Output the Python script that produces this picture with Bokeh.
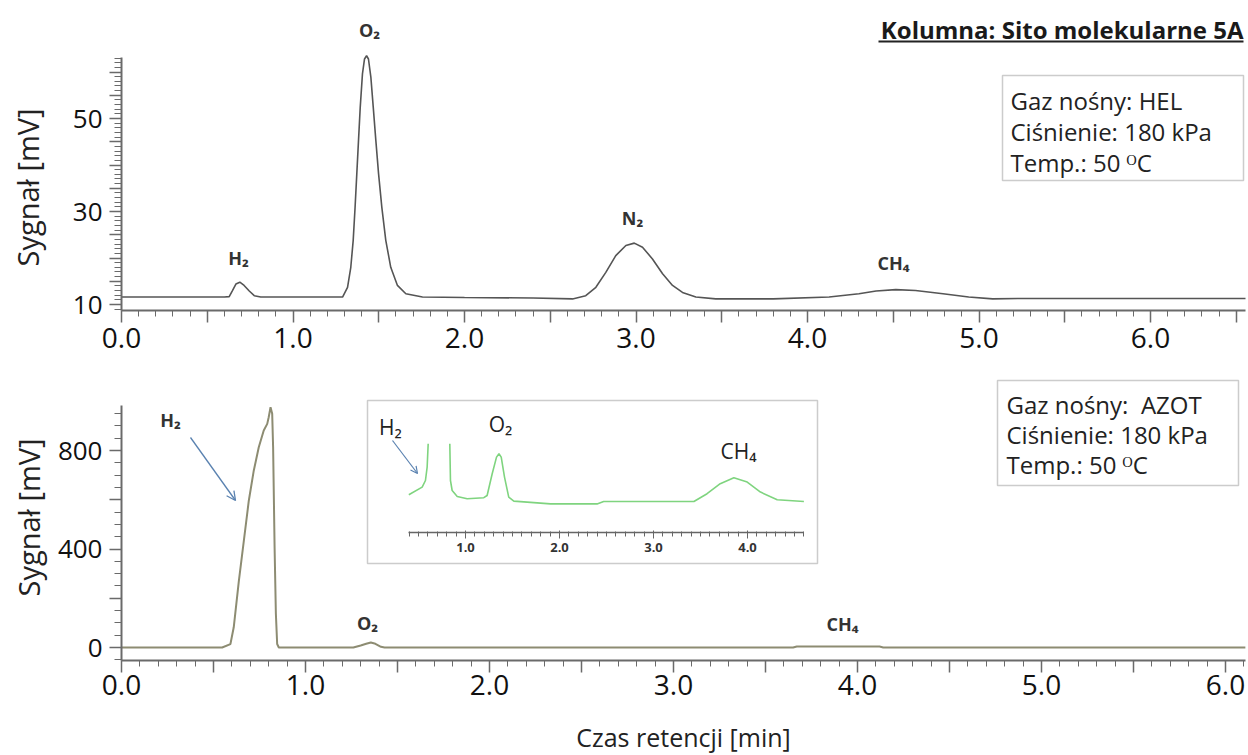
from bokeh.plotting import figure
from bokeh.models import (Range1d, LinearAxis, FixedTicker, CustomJSTickFormatter,
                          Label, BoxAnnotation, Arrow, OpenHead, Title)
from bokeh.layouts import column
from bokeh.embed import file_html
from bokeh.resources import INLINE

# ---------------- data ----------------
# Top chromatogram: carrier gas helium
top_time = [0.0, 0.60, 0.628, 0.647, 0.667, 0.69, 0.715, 0.745, 0.774, 0.812, 1.0,
            1.289, 1.318, 1.337, 1.351, 1.362, 1.372, 1.382, 1.392, 1.405, 1.417, 1.429,
            1.44, 1.454, 1.468, 1.483, 1.499, 1.518, 1.541, 1.570, 1.609, 1.658, 1.755,
            2.0, 2.4, 2.63, 2.707, 2.766, 2.824, 2.882, 2.941, 2.99, 3.038, 3.096, 3.155,
            3.213, 3.271, 3.349, 3.465, 3.8, 4.126, 4.30, 4.40, 4.515, 4.63, 4.79, 4.94,
            5.08, 5.25, 6.0, 6.57]
top_signal = [11.6, 11.6, 11.7, 13.0, 14.4, 14.8, 14.1, 12.9, 11.9, 11.6, 11.6,
              11.6, 13.7, 18.0, 23.8, 30.9, 38.1, 45.3, 52.4, 59.6, 62.8, 63.5,
              62.8, 58.9, 52.4, 45.3, 38.1, 30.9, 23.8, 18.0, 14.1, 12.3, 11.6,
              11.5, 11.4, 11.2, 11.9, 13.7, 16.9, 20.5, 22.7, 23.2, 22.3, 19.8, 16.6,
              14.1, 12.6, 11.6, 11.2, 11.2, 11.6, 12.3, 12.9, 13.2, 13.0, 12.3, 11.6,
              11.2, 11.3, 11.3, 11.3]

# Bottom chromatogram: carrier gas nitrogen
bot_time = [0.0, 0.5, 0.547, 0.592, 0.61, 0.638, 0.665, 0.692, 0.719, 0.746, 0.773,
            0.792, 0.80, 0.81, 0.819, 0.824, 0.832, 0.839, 0.846, 0.855, 1.0,
            1.26, 1.30, 1.33, 1.355, 1.38, 1.41, 1.43, 2.0, 3.0, 3.65, 3.67, 4.12,
            4.14, 5.0, 6.11]
bot_signal = [0, 0, 0, 14, 82, 272, 434, 597, 719, 813, 881,
              908, 935, 976, 949, 813, 407, 137, 14, 0, 0,
              0, 8, 15, 20, 15, 3, 0, 0, 0, 0, 4, 4,
              0, 0, 0]

# Inset (zoomed bottom chromatogram)
inset_h2_time = [0.397, 0.539, 0.574, 0.592, 0.603]
inset_h2_signal = [4.4, 8.2, 11.5, 18.2, 29.9]
inset_time = [0.833, 0.84, 0.858, 0.912, 1.018, 1.195, 1.23, 1.284, 1.33, 1.356, 1.38,
              1.415, 1.46, 1.514, 1.904, 2.4, 2.47, 2.9, 3.43, 3.57, 3.71, 3.855,
              3.997, 4.138, 4.316, 4.6]
inset_signal = [29.9, 11.5, 6.5, 3.5, 2.4, 2.9, 4.0, 14.9, 23.2, 24.9, 23.2,
                13.2, 3.2, 1.2, -0.2, -0.2, 1.0, 1.0, 1.0, 4.9, 9.9, 12.9,
                10.7, 5.7, 1.9, 1.0]

top_y_labels = [10, 30, 50]
bot_y_labels = [0, 400, 800]
inset_x_labels = [1, 2, 3, 4]

y_title = "Sygnał [mV]"
x_title = "Czas retencji [min]"
column_title = "Kolumna: Sito molekularne 5A"
top_info = ["Gaz nośny: HEL", "Ciśnienie: 180 kPa", "Temp.: 50 ᴼC"]
bot_info = ["Gaz nośny:\u00a0 AZOT", "Ciśnienie: 180 kPa", "Temp.: 50 ᴼC"]

# ---------------- layout helpers (reference pixel -> data) ----------------
FONT = "Open Sans"
LEFT = 121          # frame left edge (px) of both panels
FRAME_W = 1124
def top_x(px): return (px - LEFT) / 171.5
def top_y(py): return 10 + (304 - py) / 4.65
def bot_x(px): return (px - LEFT) / 184.0
def bot_y(py): return (647 - py) / 0.24625
def ins_x(px): return (px - 371) / 94.0
def ins_y(py): return (503 - py) * 0.5

AX = "#6a6a6a"

def style_axes(p, ytick_js, xstandoff):
    p.xgrid.visible = False
    p.ygrid.visible = False
    p.outline_line_color = None
    for ax in (p.xaxis[0], p.yaxis[0]):
        ax.axis_line_color = AX
        ax.axis_line_width = 2
        ax.major_tick_line_color = AX
        ax.minor_tick_line_color = AX
        ax.major_tick_line_width = 1.5
        ax.minor_tick_line_width = 1
        ax.major_tick_in = 0
        ax.minor_tick_in = 0
        ax.major_label_text_font = FONT
        ax.major_label_text_color = "#111111"
        ax.axis_label_text_font = FONT
        ax.axis_label_text_font_style = "normal"
        ax.axis_label_text_color = "#222222"
    xa = p.xaxis[0]
    xa.major_label_text_font_size = "28px"
    xa.major_tick_out = 12
    xa.minor_tick_out = 6
    xa.major_label_standoff = xstandoff
    xa.formatter = CustomJSTickFormatter(code="return (Math.abs(tick - Math.round(tick)) < 1e-6) ? tick.toFixed(1) : '';")
    ya = p.yaxis[0]
    ya.major_label_text_font_size = "26px"
    ya.major_tick_out = 12
    ya.minor_tick_out = 7
    ya.major_label_standoff = 7
    ya.formatter = CustomJSTickFormatter(code=ytick_js)

def y_title_for(p, offset, gap_font=None):
    if gap_font:
        # blank title used only as a gap between tick labels and the axis title
        p.add_layout(Title(text=" ", text_font=FONT, text_font_size=gap_font,
                           text_color="white"), "left")
    p.add_layout(Title(text=y_title, align="left", vertical_align="top", offset=offset,
                       text_font=FONT, text_font_size="29px", text_font_style="normal",
                       text_color="#222222"), "left")

def lab(p, x, y, text, size, bold=False, color="#333333", align="center"):
    p.add_layout(Label(x=x, y=y, text=text, text_align=align, text_baseline="middle",
                       text_font=FONT, text_font_size=size,
                       text_font_style="bold" if bold else "normal", text_color=color))

# ---------------- top panel ----------------
p1 = figure(frame_width=FRAME_W, frame_height=310,
            x_range=Range1d(0, top_x(1245)), y_range=Range1d(top_y(310), top_y(0)),
            output_backend="svg", toolbar_location=None,
            min_border_left=LEFT, min_border_right=3, min_border_top=0, min_border_bottom=47,
            background_fill_color="white", border_fill_color="white")
style_axes(p1, "return ([%s].indexOf(tick) >= 0) ? tick.toString() : '';" % ",".join(str(v) for v in top_y_labels), 5)
p1.xaxis[0].ticker = FixedTicker(ticks=[i * 0.5 for i in range(14)],
                                 minor_ticks=[round(i * 0.1, 1) for i in range(66)])
p1.yaxis[0].ticker = FixedTicker(ticks=[10, 15, 20, 25, 30, 35, 40, 45, 50, 55, 60],
                                 minor_ticks=list(range(9, 64)))
p1.yaxis[0].bounds = (top_y(310), top_y(57))
y_title_for(p1, 44, "3px")
p1.line(top_time, top_signal, line_color="#555555", line_width=1.6)

lab(p1, top_x(238), top_y(257), "H₂", "18px", True)
lab(p1, top_x(369), top_y(29), "O₂", "18px", True)
lab(p1, top_x(632), top_y(217), "N₂", "18px", True)
lab(p1, top_x(893), top_y(262), "CH₄", "18px", True)
lab(p1, top_x(1243), top_y(29), column_title, "24px", True, "#1a1a1a", "right")
p1.add_layout(BoxAnnotation(left=top_x(878), right=top_x(1243), top=top_y(40), bottom=top_y(42),
                            fill_color="#222222", fill_alpha=1, line_color=None))
p1.add_layout(BoxAnnotation(left=top_x(1002), right=top_x(1243), top=top_y(75), bottom=top_y(180),
                            fill_alpha=0, line_color="#555555", line_width=1.5))
for i, t in enumerate(top_info):
    lab(p1, top_x(1010), top_y(100 + 31 * i), t, "24px", False, "#222222", "left")

# ---------------- bottom panel ----------------
p2 = figure(frame_width=FRAME_W, frame_height=303,
            x_range=Range1d(0, bot_x(1245)), y_range=Range1d(bot_y(660), bot_y(357)),
            output_backend="svg", toolbar_location=None,
            min_border_left=LEFT, min_border_right=3, min_border_top=0, min_border_bottom=94,
            background_fill_color="white", border_fill_color="white")
style_axes(p2, "return ([%s].indexOf(tick) >= 0) ? tick.toString() : '';" % ",".join(str(v) for v in bot_y_labels), 2)
p2.xaxis[0].ticker = FixedTicker(ticks=[i * 0.5 for i in range(13)],
                                 minor_ticks=[round(i * 0.1, 1) for i in range(62)])
p2.yaxis[0].ticker = FixedTicker(ticks=[0, 200, 400, 600, 800],
                                 minor_ticks=list(range(-50, 1000, 50)))
p2.yaxis[0].bounds = (bot_y(660), bot_y(405))
p2.xaxis[0].axis_label = x_title
p2.xaxis[0].axis_label_text_font_size = "25px"
p2.xaxis[0].axis_label_standoff = 22
y_title_for(p2, 64)
p2.line(bot_time, bot_signal, line_color="#8d8c72", line_width=2)

lab(p2, bot_x(170), bot_y(419), "H₂", "18px", True)
lab(p2, bot_x(367), bot_y(622), "O₂", "18px", True)
lab(p2, bot_x(842), bot_y(623), "CH₄", "18px", True)
ARROW = "#5a82b0"
p2.add_layout(Arrow(end=OpenHead(size=9, line_color=ARROW, line_width=1.3),
                    x_start=bot_x(190), y_start=bot_y(437), x_end=bot_x(235), y_end=bot_y(500),
                    line_color=ARROW, line_width=1.3))
p2.add_layout(BoxAnnotation(left=bot_x(997), right=bot_x(1238), top=bot_y(380), bottom=bot_y(485),
                            fill_alpha=0, line_color="#555555", line_width=1.5))
for i, t in enumerate(bot_info):
    lab(p2, bot_x(1006), bot_y(404 + 30 * i), t, "24px", False, "#222222", "left")

# inset
p2.extra_x_ranges = {"inset": Range1d(ins_x(LEFT), ins_x(1245))}
p2.extra_y_ranges = {"inset": Range1d(ins_y(660), ins_y(357))}
p2.add_layout(BoxAnnotation(left=bot_x(367), right=bot_x(817), top=bot_y(400), bottom=bot_y(563),
                            fill_alpha=0, line_color="#555555", line_width=1.5))
GREEN = "#7fd47f"
p2.line(inset_h2_time, inset_h2_signal, line_color=GREEN, line_width=1.6,
        x_range_name="inset", y_range_name="inset")
p2.line(inset_time, inset_signal, line_color=GREEN, line_width=1.6,
        x_range_name="inset", y_range_name="inset")
iax = LinearAxis(x_range_name="inset", fixed_location=bot_y(532), bounds=(0.39, 4.6))
iax.ticker = FixedTicker(ticks=inset_x_labels, minor_ticks=[round(0.4 + i * 0.1, 1) for i in range(43)])
iax.formatter = CustomJSTickFormatter(code="return tick.toFixed(1);")
iax.axis_line_color = "#666666"
iax.axis_line_width = 1.5
iax.major_tick_line_color = "#666666"
iax.minor_tick_line_color = "#666666"
iax.major_tick_in = 2
iax.major_tick_out = 6
iax.minor_tick_in = 1
iax.minor_tick_out = 4
iax.major_label_standoff = 4
iax.major_label_text_font = FONT
iax.major_label_text_font_size = "13px"
iax.major_label_text_font_style = "bold"
iax.major_label_text_color = "#333333"
p2.add_layout(iax, "below")
lab(p2, bot_x(390), bot_y(426), "H₂", "21px", False, "#222222")
lab(p2, bot_x(500), bot_y(423), "O₂", "21px", False, "#222222")
lab(p2, bot_x(738), bot_y(450), "CH₄", "21px", False, "#222222")
p2.add_layout(Arrow(end=OpenHead(size=7, line_color=ARROW, line_width=1.2),
                    x_start=bot_x(392), y_start=bot_y(440), x_end=bot_x(417), y_end=bot_y(473),
                    line_color=ARROW, line_width=1.2))

layout = column(p1, p2, spacing=0)
open("out.html", "w").write(file_html(layout, INLINE))
